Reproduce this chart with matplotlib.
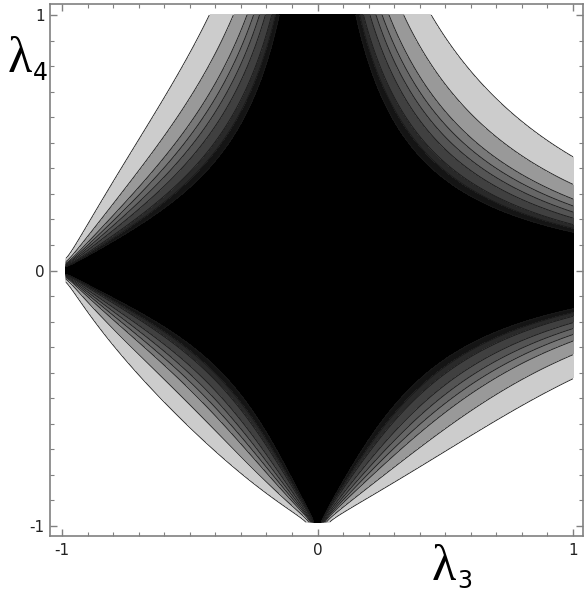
import numpy as np
import matplotlib
matplotlib.use("Agg")
import matplotlib.pyplot as plt
from matplotlib.ticker import MultipleLocator

# field f = phi(l3) * phi(l4) * exp(ALPHA * min(l3,0) * min(l4,0))
# phi(v) = |v| e^(BETA v) / sqrt((1 + v)^2 + TIP^2)
BETA = 1.0
ALPHA = 0.73
TIP = 0.022
GRID_START = -0.985   # the sampled field stops just short of the cusps

# contour levels (inner -> outer) and the gray of each band, black -> white
LEVELS = [0.206, 0.227, 0.248, 0.284, 0.318, 0.353, 0.393, 0.480, 0.653]
BAND_GRAYS = [0.0, 0.08, 0.16, 0.25, 0.33, 0.40, 0.47, 0.60, 0.80, 1.0]

TICK_VALUES = [-1, 0, 1]
TICK_LABELS = ["-1", "0", "1"]


def phi(v):
    return np.abs(v) * np.exp(BETA * v) / np.sqrt((1 + v) ** 2 + TIP ** 2)


grid = np.linspace(GRID_START, 1, 801)
X, Y = np.meshgrid(grid, grid)
Z = phi(X) * phi(Y) * np.exp(ALPHA * np.minimum(X, 0) * np.minimum(Y, 0))

fig = plt.figure(figsize=(5.88, 5.94), dpi=100)
ax = fig.add_axes([50 / 588, 1 - 536 / 594, 533 / 588, 532 / 594])

ax.contourf(X, Y, Z, levels=[-1] + LEVELS + [1e4],
            colors=[str(g) for g in BAND_GRAYS])
ax.contour(X, Y, Z, levels=LEVELS, colors="#1a1a1a", linewidths=0.6)

ax.set_xlim(-1.047, 1.039)
ax.set_ylim(-1.039, 1.043)

ax.set_xticks(TICK_VALUES)
ax.set_xticklabels(TICK_LABELS)
ax.set_yticks(TICK_VALUES)
ax.set_yticklabels(TICK_LABELS)
ax.xaxis.set_minor_locator(MultipleLocator(0.1))
ax.yaxis.set_minor_locator(MultipleLocator(0.1))
ax.tick_params(which="both", direction="in", top=True, right=True,
               color="#808080", labelsize=11, labelcolor="#222222")
ax.tick_params(which="major", length=5, width=1)
ax.tick_params(which="minor", length=3, width=0.8)
ax.tick_params(axis="x", pad=5)
ax.tick_params(axis="y", pad=4)
for side in ax.spines.values():
    side.set_color("#808080")
    side.set_linewidth(1.2)

# axis names, drawn like the pasted-in labels of the original
fig.text(8 / 588, 1 - 72 / 594, "λ", fontsize=36, family="Liberation Serif",
         va="baseline", ha="left")
fig.text(33 / 588, 1 - 80 / 594, "4", fontsize=17, va="baseline", ha="left")
fig.text(432 / 588, 1 - 580 / 594, "λ", fontsize=36, family="Liberation Serif",
         va="baseline", ha="left")
fig.text(457 / 588, 1 - 588 / 594, "3", fontsize=17, va="baseline", ha="left")

fig.savefig("out.png", dpi=100)
